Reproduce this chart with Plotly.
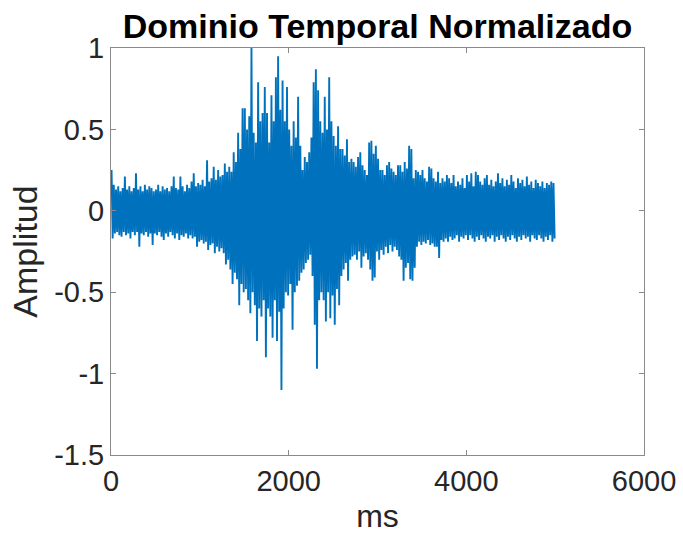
import numpy as np
import plotly.graph_objects as go

# Signal envelope: one positive and one negative
# excursion per 25 ms bin, from 0 to 5000 ms.
bin_ms = 25
upper = [
    0.25, 0.16, 0.13, 0.15, 0.12, 0.14, 0.21, 0.13, 0.15, 0.12,
    0.14, 0.23, 0.13, 0.15, 0.12, 0.16, 0.13, 0.15, 0.14, 0.12,
    0.13, 0.16, 0.12, 0.15, 0.13, 0.14, 0.12, 0.15, 0.21, 0.14,
    0.13, 0.21, 0.15, 0.12, 0.16, 0.14, 0.18, 0.23, 0.15, 0.17,
    0.16, 0.19, 0.15, 0.31, 0.18, 0.20, 0.27, 0.19, 0.25, 0.21,
    0.22, 0.29, 0.24, 0.27, 0.24, 0.36, 0.30, 0.48, 0.38, 0.63,
    0.63, 0.50, 0.58, 1.00, 0.48, 0.42, 0.79, 0.55, 0.60, 0.76,
    0.60, 0.42, 0.71, 0.55, 0.82, 0.95, 0.62, 0.80, 0.55, 0.76,
    0.50, 0.40, 0.55, 0.45, 0.70, 0.40, 0.25, 0.33, 0.30, 0.36,
    0.45, 0.79, 0.87, 0.74, 0.55, 0.48, 0.70, 0.50, 0.82, 0.55,
    0.46, 0.40, 0.52, 0.38, 0.38, 0.34, 0.44, 0.30, 0.32, 0.30,
    0.27, 0.33, 0.36, 0.28, 0.25, 0.22, 0.42, 0.43, 0.35, 0.40,
    0.32, 0.25, 0.25, 0.22, 0.28, 0.30, 0.26, 0.24, 0.22, 0.28,
    0.28, 0.24, 0.30, 0.26, 0.40, 0.38, 0.20, 0.25, 0.24, 0.22,
    0.25, 0.20, 0.18, 0.27, 0.26, 0.20, 0.18, 0.24, 0.17, 0.20,
    0.18, 0.22, 0.20, 0.17, 0.22, 0.15, 0.18, 0.16, 0.20, 0.14,
    0.22, 0.18, 0.23, 0.15, 0.24, 0.22, 0.18, 0.16, 0.20, 0.22,
    0.16, 0.19, 0.15, 0.18, 0.23, 0.17, 0.20, 0.15, 0.19, 0.16,
    0.22, 0.18, 0.14, 0.20, 0.17, 0.19, 0.15, 0.21, 0.16, 0.18,
    0.14, 0.19, 0.17, 0.15, 0.18, 0.14, 0.17, 0.16, 0.18, 0.17,
]
lower = [
    -0.17, -0.14, -0.13, -0.15, -0.16, -0.13, -0.15, -0.14, -0.17, -0.13,
    -0.15, -0.13, -0.22, -0.14, -0.15, -0.13, -0.16, -0.14, -0.21, -0.14,
    -0.15, -0.13, -0.16, -0.18, -0.14, -0.16, -0.13, -0.15, -0.17, -0.14,
    -0.18, -0.15, -0.16, -0.14, -0.17, -0.15, -0.17, -0.16, -0.22, -0.19,
    -0.18, -0.20, -0.19, -0.24, -0.21, -0.20, -0.26, -0.22, -0.25, -0.23,
    -0.26, -0.33, -0.30, -0.36, -0.45, -0.38, -0.42, -0.58, -0.45, -0.50,
    -0.48, -0.55, -0.63, -0.50, -0.58, -0.80, -0.60, -0.65, -0.55, -0.90,
    -0.60, -0.65, -0.78, -0.55, -0.80, -0.62, -1.10, -0.60, -0.50, -0.52,
    -0.45, -0.73, -0.50, -0.46, -0.43, -0.38, -0.36, -0.32, -0.30, -0.27,
    -0.40, -0.70, -0.97, -0.55, -0.50, -0.55, -0.68, -0.50, -0.66, -0.52,
    -0.70, -0.48, -0.58, -0.40, -0.36, -0.32, -0.43, -0.30, -0.28, -0.27,
    -0.30, -0.25, -0.35, -0.28, -0.26, -0.30, -0.36, -0.43, -0.41, -0.25,
    -0.30, -0.24, -0.27, -0.22, -0.26, -0.21, -0.25, -0.22, -0.24, -0.28,
    -0.30, -0.43, -0.35, -0.32, -0.42, -0.43, -0.35, -0.22, -0.19, -0.21,
    -0.19, -0.20, -0.18, -0.21, -0.20, -0.22, -0.22, -0.29, -0.18, -0.19,
    -0.17, -0.19, -0.16, -0.18, -0.17, -0.15, -0.19, -0.16, -0.17, -0.15,
    -0.18, -0.15, -0.17, -0.19, -0.16, -0.18, -0.15, -0.17, -0.19, -0.16,
    -0.17, -0.15, -0.19, -0.16, -0.18, -0.15, -0.17, -0.19, -0.16, -0.18,
    -0.15, -0.17, -0.19, -0.16, -0.18, -0.15, -0.17, -0.16, -0.19, -0.15,
    -0.17, -0.18, -0.15, -0.17, -0.19, -0.16, -0.18, -0.15, -0.19, -0.17,
]
x_ticks = [0, 2000, 4000, 6000]
y_ticks = [-1.5, -1, -0.5, 0, 0.5, 1]
y_tick_labels = ["-1.5", "-1", "-0.5", "0", "0.5", "1"]

n = len(upper)
starts = np.arange(n) * bin_ms
t = np.empty(2 * n)
t[0::2] = starts + bin_ms * 0.25
t[1::2] = starts + bin_ms * 0.75
amp = np.empty(2 * n)
amp[0::2] = upper
amp[1::2] = lower

axis_col = "#8a8a8a"
txt_col = "#262626"
font = "Liberation Sans, Arial, sans-serif"

fig = go.Figure()
fig.add_trace(go.Scatter(x=t, y=amp, mode="lines",
                         line=dict(color="#0072BD", width=1.9),
                         showlegend=False, hoverinfo="skip"))

fig.update_layout(
    width=683, height=540,
    margin=dict(l=111, r=39, t=48, b=85, autoexpand=False),
    paper_bgcolor="white", plot_bgcolor="white",
    font=dict(family=font, color=txt_col),
    title=dict(text="<b>Dominio Temporal Normalizado</b>",
               font=dict(family=font, size=34, color="#000000"),
               x=0.5, xanchor="center", xref="paper",
               y=1 - 26 / 540, yanchor="middle"),
)
fig.update_xaxes(range=[0, 6000], tickvals=x_ticks,
                 ticktext=[str(v) for v in x_ticks],
                 ticks="inside", ticklen=5, tickcolor=axis_col,
                 showline=True, linecolor=axis_col, linewidth=1,
                 mirror="ticks", showgrid=False, zeroline=False,
                 automargin=False,
                 tickfont=dict(size=29, color=txt_col),
                 title=dict(text="ms", font=dict(size=32, color=txt_col),
                            standoff=8))
fig.update_yaxes(range=[-1.5, 1], tickvals=y_ticks, ticktext=y_tick_labels,
                 ticks="inside", ticklen=5, tickcolor=axis_col,
                 showline=True, linecolor=axis_col, linewidth=1,
                 mirror="ticks", showgrid=False, zeroline=False,
                 automargin=False,
                 tickfont=dict(size=29, color=txt_col),
                 title=dict(text="Amplitud", font=dict(size=34, color=txt_col),
                            standoff=6))

fig.write_html("out.html")
